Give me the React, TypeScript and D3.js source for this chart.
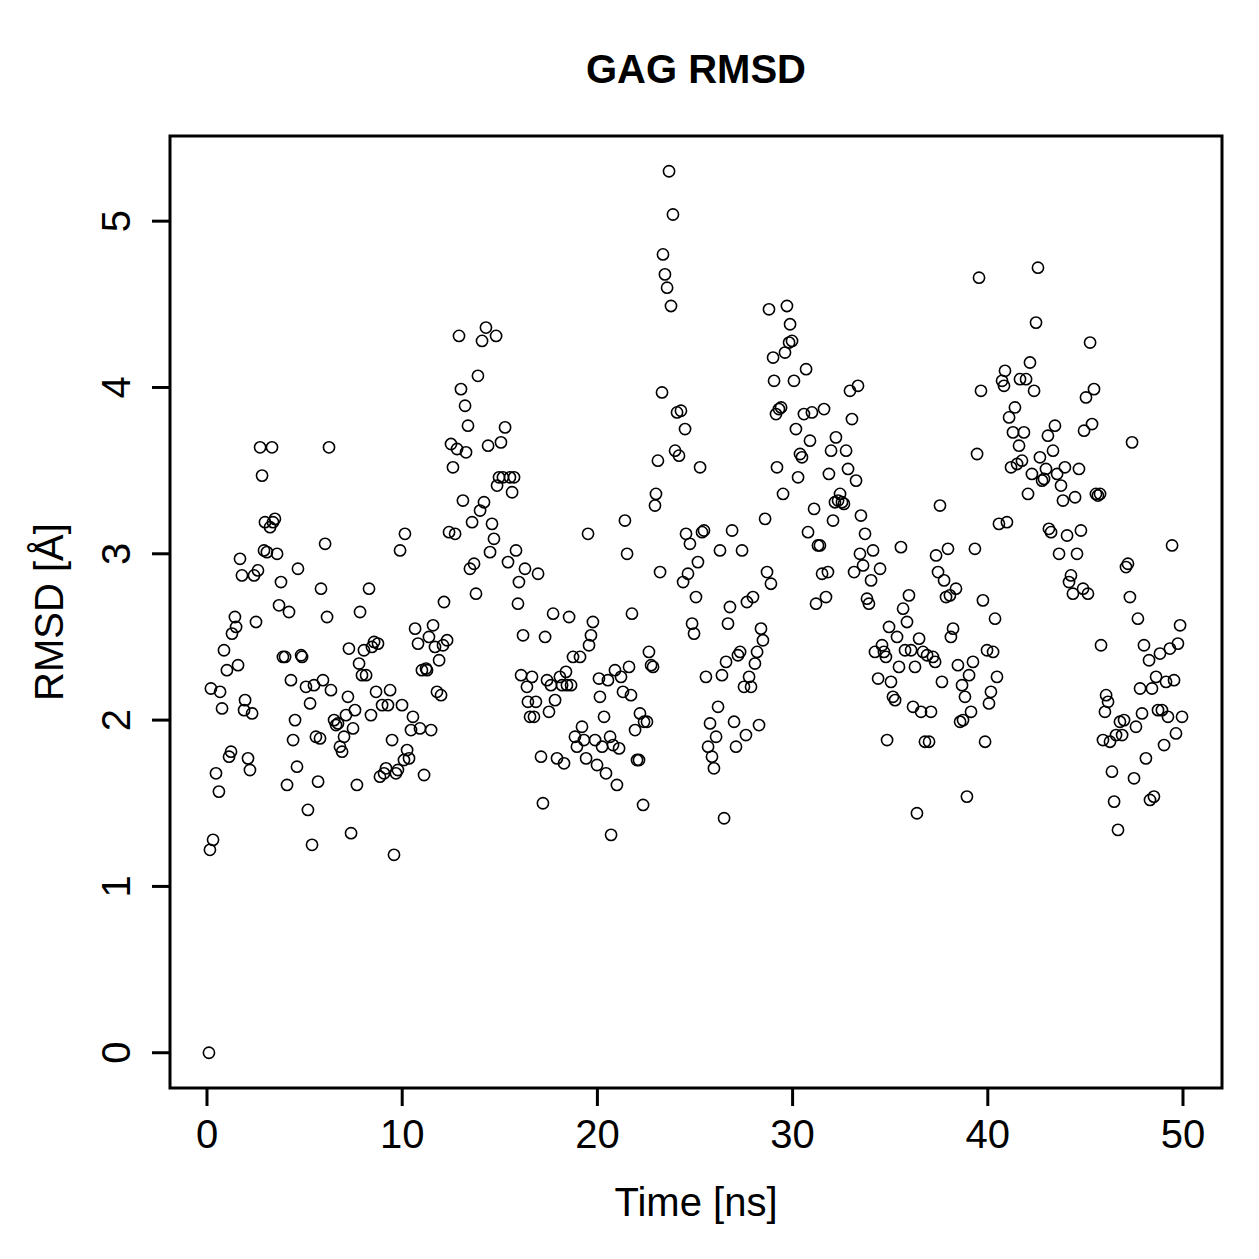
import React from "react";
import * as d3 from "d3";

// Simulation time (ns) and GAG backbone RMSD (Å) per frame
const timeNs: number[] = [
  0.10,0.15,0.31,0.20,0.46,0.61,0.67,0.77,0.87,1.02,1.13,1.23,1.28,1.43,1.49,1.59,1.69,1.79,1.95,1.90,
  2.10,2.20,2.31,2.41,2.51,2.61,2.72,2.82,2.92,2.97,3.07,3.23,3.33,3.38,3.48,3.59,3.69,3.79,3.89,4.00,
  4.10,4.20,4.30,4.41,4.51,4.61,4.66,4.82,4.87,5.07,5.17,5.28,5.38,5.48,5.58,5.69,5.79,5.84,5.94,6.05,
  6.15,6.25,6.35,6.51,6.61,6.71,6.81,6.92,7.02,7.12,7.22,7.27,7.38,7.48,7.58,7.68,7.79,7.84,7.94,8.04,
  8.15,8.30,8.40,8.45,8.56,8.66,8.76,8.86,8.97,9.07,9.17,9.27,9.38,9.48,9.58,9.68,9.78,9.89,9.99,10.09,
  10.14,10.25,10.35,10.45,10.55,10.66,10.81,10.91,11.01,11.12,11.22,11.27,11.37,11.48,11.58,11.68,11.78,11.89,11.99,12.09,
  12.14,12.30,12.40,12.50,12.60,12.71,12.81,12.91,13.01,13.11,13.22,13.27,13.37,13.47,13.58,13.68,13.78,13.88,13.99,14.09,
  14.19,14.29,14.40,14.50,14.60,14.70,14.81,14.86,14.96,15.06,15.16,15.27,15.42,15.52,15.63,15.73,15.83,15.93,15.98,16.09,
  16.19,16.29,16.39,16.44,16.55,16.65,16.75,16.85,16.96,17.11,17.21,17.32,17.42,17.52,17.62,17.73,17.83,17.93,18.08,18.19,
  18.29,18.39,18.44,18.55,18.65,18.75,18.85,18.95,19.11,19.21,19.31,19.42,19.52,19.57,19.67,19.77,19.88,19.98,20.08,20.13,
  20.24,20.34,20.44,20.54,20.65,20.70,20.80,20.90,21.00,21.11,21.21,21.31,21.41,21.52,21.62,21.72,21.77,21.93,22.03,22.13,
  22.18,22.34,22.39,22.54,22.64,22.75,22.85,22.95,23.00,23.10,23.21,23.31,23.36,23.46,23.57,23.67,23.77,23.87,23.98,24.08,
  24.18,24.28,24.39,24.49,24.54,24.64,24.74,24.85,24.95,25.05,25.15,25.26,25.36,25.46,25.56,25.67,25.77,25.87,25.97,26.08,
  26.18,26.28,26.38,26.49,26.59,26.69,26.79,26.90,27.00,27.10,27.20,27.31,27.41,27.51,27.61,27.66,27.77,27.87,27.97,28.07,
  28.18,28.28,28.38,28.48,28.59,28.69,28.79,28.89,29.00,29.05,29.15,29.20,29.30,29.41,29.51,29.61,29.71,29.82,29.87,29.97,
  30.07,30.17,30.28,30.38,30.48,30.58,30.69,30.79,30.89,30.99,31.10,31.20,31.30,31.40,31.51,31.61,31.71,31.81,31.86,31.97,
  32.07,32.17,32.22,32.33,32.43,32.53,32.63,32.74,32.84,32.94,33.04,33.15,33.25,33.35,33.45,33.50,33.61,33.71,33.81,33.91,
  34.02,34.12,34.22,34.38,34.48,34.58,34.68,34.78,34.84,34.94,35.04,35.14,35.25,35.35,35.45,35.55,35.66,35.76,35.86,35.96,
  36.07,36.17,36.27,36.37,36.48,36.58,36.68,36.78,36.89,36.99,37.09,37.19,37.30,37.35,37.45,37.55,37.65,37.76,37.86,37.96,
  38.06,38.11,38.22,38.37,38.47,38.58,38.68,38.73,38.83,38.93,39.04,39.14,39.24,39.34,39.45,39.55,39.65,39.75,39.86,39.96,
  40.06,40.16,40.27,40.37,40.47,40.57,40.73,40.83,40.88,40.98,41.09,41.19,41.29,41.39,41.50,41.60,41.65,41.75,41.85,41.96,
  42.06,42.16,42.26,42.37,42.47,42.57,42.67,42.78,42.88,42.98,43.08,43.13,43.24,43.34,43.44,43.55,43.65,43.75,43.85,43.95,
  44.06,44.16,44.26,44.36,44.47,44.57,44.67,44.77,44.88,44.93,45.03,45.13,45.24,45.34,45.44,45.54,45.64,45.75,45.80,45.90,
  46.00,46.06,46.16,46.26,46.36,46.47,46.57,46.67,46.77,46.88,46.98,47.08,47.18,47.28,47.39,47.49,47.59,47.69,47.80,47.90,
  48.00,48.10,48.26,48.31,48.41,48.51,48.62,48.72,48.82,48.92,49.03,49.13,49.23,49.33,49.44,49.54,49.64,49.74,49.85,49.95,
];

const rmsd: number[] = [
  0,1.22,1.28,2.19,1.68,1.57,2.17,2.07,2.42,2.30,1.78,1.81,2.52,2.62,2.56,2.33,2.97,2.87,2.12,2.06,
  1.77,1.70,2.04,2.87,2.59,2.90,3.64,3.47,3.02,3.19,3.01,3.16,3.64,3.19,3.21,3.00,2.69,2.83,2.38,2.38,
  1.61,2.65,2.24,1.88,2.00,1.72,2.91,2.39,2.38,2.20,1.46,2.10,1.25,2.21,1.90,1.63,1.89,2.79,2.24,3.06,
  2.62,3.64,2.18,2.00,1.97,1.98,1.84,1.81,1.90,2.03,2.14,2.43,1.32,1.95,2.06,1.61,2.34,2.65,2.27,2.42,
  2.27,2.79,2.03,2.44,2.47,2.17,2.46,1.66,2.09,1.68,1.71,2.09,2.18,1.88,1.19,1.68,1.70,3.02,2.09,1.76,
  3.12,1.82,1.77,1.94,2.02,2.55,2.46,1.95,2.30,1.67,2.31,2.30,2.50,1.94,2.57,2.44,2.17,2.36,2.15,2.45,
  2.71,2.48,3.13,3.66,3.52,3.12,3.63,4.31,3.99,3.32,3.89,3.61,3.77,2.91,3.19,2.94,2.76,4.07,3.26,4.28,
  3.31,4.36,3.65,3.01,3.18,3.09,4.31,3.41,3.46,3.67,3.46,3.76,2.95,3.46,3.37,3.46,3.02,2.70,2.83,2.27,
  2.51,2.91,2.20,2.11,2.02,2.26,2.02,2.11,2.88,1.78,1.50,2.50,2.24,2.05,2.21,2.64,2.12,1.77,2.26,2.21,
  1.74,2.29,2.21,2.62,2.21,2.38,1.90,1.84,2.38,1.96,1.88,1.77,3.12,2.45,2.51,2.59,1.88,1.73,2.25,2.14,
  1.84,2.02,1.68,2.24,1.90,1.31,1.85,2.30,1.61,1.83,2.26,2.17,3.20,3.00,2.32,2.15,2.64,1.94,1.76,1.76,
  2.04,1.49,1.99,1.99,2.41,2.33,2.32,3.29,3.36,3.56,2.89,3.97,4.80,4.68,4.60,5.30,4.49,5.04,3.62,3.85,
  3.59,3.86,2.83,3.75,3.12,2.88,3.06,2.58,2.52,2.74,2.95,3.52,3.13,3.14,2.26,1.84,1.98,1.78,1.71,1.90,
  2.08,3.02,2.27,1.41,2.35,2.58,2.68,3.14,1.99,1.84,2.39,2.41,3.02,2.20,1.91,2.71,2.26,2.20,2.74,2.34,
  2.41,1.97,2.55,2.48,3.21,2.89,4.47,2.82,4.18,4.04,3.84,3.52,3.87,3.88,3.36,4.21,4.49,4.27,4.38,4.28,
  4.04,3.75,3.46,3.60,3.58,3.84,4.11,3.13,3.68,3.85,3.27,2.70,3.05,3.05,2.88,3.87,2.74,2.89,3.48,3.62,
  3.20,3.31,3.70,3.32,3.36,3.31,3.30,3.62,3.51,3.98,3.81,2.89,3.44,4.01,3.00,3.23,2.93,3.12,2.73,2.70,
  2.84,3.02,2.41,2.25,2.91,2.45,2.41,2.38,1.88,2.56,2.23,2.14,2.12,2.50,2.32,3.04,2.67,2.42,2.59,2.75,
  2.42,2.08,2.32,1.44,2.49,2.05,2.41,1.87,2.39,1.87,2.05,2.38,2.35,2.99,2.89,3.29,2.23,2.84,2.74,3.03,
  2.75,2.50,2.55,2.79,2.33,1.99,2.21,2.00,2.14,1.54,2.27,2.05,2.35,3.03,3.60,4.66,3.98,2.72,1.87,2.42,
  2.10,2.17,2.41,2.61,2.26,3.18,4.04,4.01,4.10,3.19,3.82,3.52,3.73,3.88,3.54,3.65,4.05,3.56,3.73,4.05,
  3.36,4.15,3.48,3.98,4.39,4.72,3.58,3.44,3.45,3.51,3.71,3.15,3.13,3.62,3.77,3.48,3.00,3.41,3.32,3.52,
  3.11,2.83,2.87,2.76,3.34,3.00,3.51,3.14,2.79,3.74,3.94,2.76,4.27,3.78,3.99,3.36,3.35,3.36,2.45,1.88,
  2.05,2.15,2.11,1.87,1.69,1.51,1.91,1.34,1.99,1.91,2.00,2.92,2.94,2.74,3.67,1.65,1.96,2.61,2.19,2.04,
  2.45,1.77,2.36,1.52,2.19,1.54,2.26,2.06,2.40,2.06,1.85,2.23,2.02,2.43,3.05,2.24,1.92,2.46,2.57,2.02,
];

const xTicks: number[] = [0, 10, 20, 30, 40, 50];
const yTicks: number[] = [0, 1, 2, 3, 4, 5];

const chartTitle = "GAG RMSD";
const xTitle = "Time [ns]";
const yTitle = "RMSD [Å]";

const W = 1259;
const H = 1259;
const box = { left: 170, right: 1222, top: 136, bottom: 1088 };
const FONT = "'Liberation Sans', Arial, Helvetica, sans-serif";

export default function App() {
  const x = d3.scaleLinear().domain([0, 50]).range([207, 1183]);
  const y = d3.scaleLinear().domain([-0.212, 5.512]).range([box.bottom, box.top]);
  const points = timeNs.map((t, i) => ({ t, v: rmsd[i] }));

  return (
    <div style={{ position: "absolute", left: 0, top: 0, background: "#fff" }}>
      <svg width={W} height={H} viewBox={`0 0 ${W} ${H}`} style={{ display: "block" }}>
        <rect x={0} y={0} width={W} height={H} fill="#fff" />
        <text x={(box.left + box.right) / 2} y={83} textAnchor="middle" fontFamily={FONT}
          fontWeight="bold" fontSize={40} fill="#000">{chartTitle}</text>

        <g fill="none" stroke="#000" strokeWidth={1.6}>
          {points.map((p, i) => (
            <circle key={i} cx={x(p.t)} cy={y(p.v)} r={5.6} />
          ))}
        </g>

        <rect x={box.left} y={box.top} width={box.right - box.left} height={box.bottom - box.top}
          fill="none" stroke="#000" strokeWidth={3} />

        {/* bottom axis */}
        {xTicks.map((t) => (
          <g key={t}>
            <line x1={x(t)} x2={x(t)} y1={box.bottom} y2={box.bottom + 18} stroke="#000" strokeWidth={3} />
            <text x={x(t)} y={1148} textAnchor="middle" fontFamily={FONT} fontSize={40} fill="#000">{t}</text>
          </g>
        ))}

        {/* left axis */}
        {yTicks.map((t) => (
          <g key={t}>
            <line x1={box.left - 18} x2={box.left} y1={y(t)} y2={y(t)} stroke="#000" strokeWidth={3} />
            <text transform={`translate(130,${y(t)}) rotate(-90)`} textAnchor="middle"
              fontFamily={FONT} fontSize={40} fill="#000">{t}</text>
          </g>
        ))}

        <text x={(box.left + box.right) / 2} y={1216} textAnchor="middle" fontFamily={FONT}
          fontSize={40} fill="#000">{xTitle}</text>
        <text transform={`translate(63,${(box.top + box.bottom) / 2}) rotate(-90)`} textAnchor="middle"
          fontFamily={FONT} fontSize={40} fill="#000">{yTitle}</text>
      </svg>
    </div>
  );
}
